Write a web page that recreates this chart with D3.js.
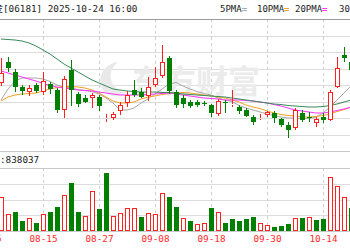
<!DOCTYPE html>
<html>
<head>
<meta charset="utf-8">
<script src="https://cdn.jsdelivr.net/npm/d3@7"></script>
<style>
body { margin:0; background:#fff; overflow:hidden; }
</style>
</head>
<body>
<div id="chart"></div>
<script>
// trading days shown (first two are off the left edge, only the label peeks in)
var dates = ["08-05","08-06","08-07","08-08","08-11","08-12","08-13","08-14","08-15",
  "08-18","08-19","08-20","08-21","08-22","08-25","08-26","08-27","08-28","08-29",
  "09-01","09-02","09-03","09-04","09-05","09-08","09-09","09-10","09-11","09-12",
  "09-15","09-16","09-17","09-18","09-19","09-22","09-23","09-24","09-25","09-26",
  "09-29","09-30","10-02","10-03","10-06","10-08","10-09","10-10","10-13","10-14",
  "10-15","10-16","10-17","10-20"];
var tickDates = ["08-05","08-15","08-27","09-08","09-18","09-30","10-14"];

// candles from 08-07 on
var open  = [818,860,840,810,801,814,801,816,804,764,844,796,788,788,790,747,748,761,778,804,
             800,792,814,831,868,800,788,780,780,779,774,756,781,776,770,763,751,748,754,758,
             746,734,728,758,750,738,750,744,810,874,860];
var close = [838,848,810,802,809,802,822,806,764,826,804,776,781,794,772,748,756,774,794,795,
             791,810,828,860,802,774,776,773,774,776,758,782,778,777,762,753,740,749,760,748,
             734,724,764,744,748,747,744,800,848,867,844];
var high  = [868,870,846,814,814,818,840,820,808,832,864,800,794,798,794,756,760,780,802,824,
             808,830,850,894,872,804,794,784,784,782,776,786,784,804,774,768,754,756,762,762,
             748,740,768,764,760,750,758,804,870,890,874];
var low   = [812,840,800,794,792,798,794,796,758,748,772,770,778,768,762,740,744,754,770,790,
             788,782,810,828,796,768,768,768,770,773,750,752,758,770,756,750,734,744,750,738,
             730,708,724,740,740,730,738,742,808,860,840];
var prevClose = 830;

// volume (10k shares)
var volume = [34,17,19,10,13,8,17,19,24,36,48,19,15,40,22,58,15,18,23,23,14,18,17,38,34,24,
              13,10,7,8,23,19,8,12,10,12,14,8,6,4,5,7,13,13,14,11,12,54,45,34,23];

// moving averages
var ma5  = [784,806,822,828,828,828,826,821,814,810,808,805,803,801,796,788,778,764,764,768,
            778,786,796,806,816,819,812,806,801,797,794,788,784,781,773,768,764,760,756,753,
            750,748,748,747,747,750,758,770,784,798,812];
var ma10 = [782,790,794,796,797,798,802,806,809,811,811,810,808,804,798,790,782,778,778,780,
            786,790,792,795,797,798,799,798,796,794,792,790,788,784,780,774,770,767,762,758,
            755,753,752,750,750,751,753,756,761,765,770];
var ma20 = [842,838,834,830,826,822,817,813,810,808,806,804,803,802,800,798,796,794,794,794,
            794,795,796,797,798,796,794,792,790,788,787,786,784,784,784,783,782,780,778,775,
            772,768,764,762,760,758,758,760,763,766,770];
var ma30 = [906,905,904,902,898,892,884,876,866,856,848,840,832,824,818,812,806,804,802,801,
            800,800,800,799,799,798,796,795,794,793,792,791,790,788,786,784,782,780,778,776,
            775,773,772,771,770,770,771,773,776,780,784];

var maNames  = ["5PMA","10PMA","20PMA","30PMA"];
var maColors = ["#a8a8a8","#f0a020","#ff33ff","#3a8a5a"];
var maSeries = [ma5, ma10, ma20, ma30];

var upColor = "#ff2020", downColor = "#008000";
var width = 350, height = 250;
var priceTop = 19, priceBottom = 151, volTop = 168, volBottom = 231;
var monoFont = "'DejaVu Sans Mono', monospace";
var cjkFont = "'Noto Sans CJK SC', sans-serif";

var candleDates = dates.slice(2);
var candles = candleDates.map(function(d,i){
  return {date:d, o:open[i], c:close[i], h:high[i], l:low[i], v:volume[i],
          pc: i==0 ? prevClose : close[i-1]};
});

var x = d3.scalePoint().domain(dates).range([-13,351]);
var y = d3.scaleLinear().domain([682,946]).range([priceBottom,priceTop]);
var yv = d3.scaleLinear().domain([0,63]).range([volBottom,volTop]);
function px(v){ return Math.round(v)+0.5; }

var svg = d3.select("#chart").append("svg")
  .attr("width",width).attr("height",height)
  .style("font-family",monoFont);

// title
svg.append("text").attr("x",3).attr("y",12).attr("text-anchor","end")
  .style("font-family",cjkFont).style("font-size","10px").attr("fill","#222")
  .text("老铺黄金");
svg.append("text").attr("x",3).attr("y",12)
  .style("font-size","9.3px").attr("fill","#222")
  .text("[06181] 2025-10-24 16:00");

// legend
var legendX = [220,257,295,339];
maNames.forEach(function(n,i){
  var t = svg.append("text").attr("x",legendX[i]).attr("y",12)
    .style("font-size","9px").attr("fill","#222");
  t.append("tspan").text(n);
  t.append("tspan").attr("fill",maColors[i]).style("font-weight","bold").text("=");
});

// grid: horizontal
var priceLevels = d3.range(8).map(function(i){ return 682 + i*33; });
svg.append("g").selectAll("line").data(priceLevels.slice(1)).enter().append("line")
  .attr("x1",0).attr("x2",width)
  .attr("y1",function(d){ return px(y(d)); }).attr("y2",function(d){ return px(y(d)); })
  .attr("stroke","#dcdcdc");
var volLevels = d3.range(1,4).map(function(i){ return i*63/4; });
svg.append("g").selectAll("line").data(volLevels).enter().append("line")
  .attr("x1",0).attr("x2",width)
  .attr("y1",function(d){ return px(yv(d)); }).attr("y2",function(d){ return px(yv(d)); })
  .attr("stroke","#dcdcdc");

// grid: vertical dashed
var vg = svg.append("g");
tickDates.forEach(function(d){
  [[priceTop,priceBottom],[volTop,volBottom]].forEach(function(r){
    vg.append("line").attr("x1",px(x(d))).attr("x2",px(x(d)))
      .attr("y1",r[0]).attr("y2",r[1])
      .attr("stroke","#cfcfcf").attr("stroke-dasharray","3,3");
  });
});

// borders
[[priceTop,"#9a9a9a"],[priceBottom,"#c8c8c8"],[volTop,"#c8c8c8"],[volBottom,"#c8c8c8"]].forEach(function(b){
  svg.append("line").attr("x1",0).attr("x2",width)
    .attr("y1",b[0]+0.5).attr("y2",b[0]+0.5).attr("stroke",b[1]);
});

// watermark
var wm = svg.append("g").attr("fill","none");
wm.append("path")
  .attr("d","M104,92 C96,80 102,64 118,62 C108,70 108,82 118,90 C124,94 128,92 130,88 C124,98 110,98 104,92 Z")
  .attr("fill","#e9e9e9");
svg.append("text").attr("x",132).attr("y",93)
  .style("font-family",cjkFont).style("font-size","32px").style("font-weight","bold")
  .attr("fill","#ebebeb").text("东方财富");

// volume label
svg.append("text").attr("x",0).attr("y",163)
  .style("font-size","9.3px").attr("fill","#222").text(":838037");

// moving averages
var plot = svg.append("g");
maSeries.forEach(function(s,i){
  var line = d3.line()
    .x(function(v,k){ return x(candleDates[k]); })
    .y(function(v){ return y(v); });
  plot.append("path").datum(s).attr("d",line)
    .attr("fill","none").attr("stroke",maColors[i]).attr("stroke-width",1);
});

// candles
var cg = plot.selectAll(".candle").data(candles).enter().append("g").attr("class","candle");
cg.each(function(d){
  var g = d3.select(this);
  var cx = Math.round(x(d.date));
  var up = d.c >= d.o;
  var col = up ? upColor : downColor;
  var top = Math.round(y(Math.max(d.o,d.c)));
  var bot = Math.round(y(Math.min(d.o,d.c)));
  if (bot - top < 1) bot = top + 1;
  if (up) {
    g.append("line").attr("x1",cx+0.5).attr("x2",cx+0.5)
      .attr("y1",Math.round(y(d.h))).attr("y2",top).attr("stroke",col);
    g.append("line").attr("x1",cx+0.5).attr("x2",cx+0.5)
      .attr("y1",bot).attr("y2",Math.round(y(d.l))).attr("stroke",col);
    g.append("rect").attr("x",cx-1.5).attr("y",top+0.5)
      .attr("width",4).attr("height",Math.max(bot-top-1,0))
      .attr("fill","#fff").attr("stroke",col);
  } else {
    g.append("line").attr("x1",cx+0.5).attr("x2",cx+0.5)
      .attr("y1",Math.round(y(d.h))).attr("y2",Math.round(y(d.l))).attr("stroke",col);
    g.append("rect").attr("x",cx-2).attr("y",top)
      .attr("width",5).attr("height",bot-top).attr("fill",col);
  }
});

// volume bars, coloured by change from previous close
var vb = svg.selectAll(".vol").data(candles).enter().append("g").attr("class","vol");
vb.each(function(d){
  var g = d3.select(this);
  var cx = Math.round(x(d.date));
  var up = d.c >= d.pc;
  var t = Math.round(yv(d.v));
  if (up) {
    g.append("rect").attr("x",cx-1.5).attr("y",t+0.5)
      .attr("width",4).attr("height",volBottom-t-1)
      .attr("fill","#fff").attr("stroke",upColor);
  } else {
    g.append("rect").attr("x",cx-2).attr("y",t)
      .attr("width",5).attr("height",volBottom-t).attr("fill",downColor);
  }
});

// date axis
var xAxis = d3.axisBottom(x).tickValues(tickDates).tickSize(0).tickPadding(0);
var ax = svg.append("g").attr("transform","translate(0,235)").call(xAxis);
ax.select(".domain").remove();
ax.selectAll("text").style("font-family",monoFont).style("font-size","9.3px")
  .attr("fill","#ff2a2a").attr("dy","0.71em");
</script>
</body>
</html>
